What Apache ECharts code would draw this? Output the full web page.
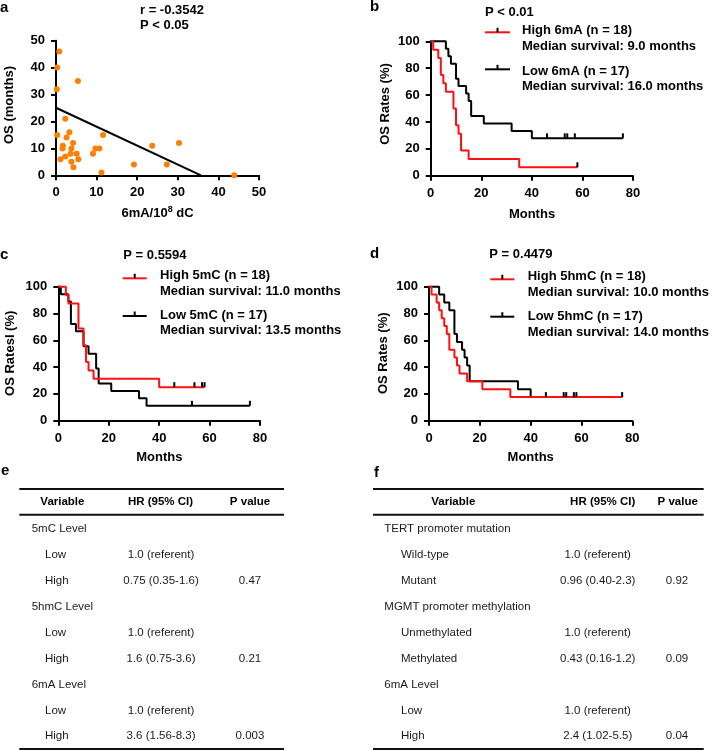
<!DOCTYPE html>
<html><head><meta charset="utf-8">
<script src="https://cdn.jsdelivr.net/npm/echarts@6/dist/echarts.min.js"></script>
<style>html,body{margin:0;padding:0;background:#fff}#c{width:714px;height:750px}</style>
</head><body><div id="c"></div>
<script>
// ---------- Panel a: scatter ----------
const scatterX = [0.8,0.3,0.2,5.4,2.3,0.3,3.3,2.6,4.2,1.7,1.6,3.8,3.6,5.1,1.1,2.3,3.8,5.5,4.3,9.1,9.7,10.7,11.6,11.2,19.2,23.7,27.3,30.3,43.9];
const scatterY = [46,40,32,35,21,15,16,14,12,11,10,10,8,8,6,7,5,6,3,8,10,10,15,1,4,11,4,12,0];
const fitIntercept = 25.1;
const fitSlope = -0.703;

// ---------- Panel b: 6mA ----------
const highB_t = [0,1,3,4,5,6,9,10,11,12,15,35,58];
const highB_s = [100,93.75,87.5,75,68.75,62.5,50,37.5,31.25,18.75,12.5,6.25,6.25];
const highB_c = [58];
const lowB_t = [0,6,7,8,10,11,14,15,16,21,32,40,76];
const lowB_s = [100,94.4,88.9,83.3,72.2,66.7,61.1,55.6,44.4,38.9,33.3,27.8,27.8];
const lowB_c = [46,53,54,57,76];

// ---------- Panel c: 5mC ----------
const highC_t = [0,3,4,8,10,11,12,14,40,58];
const highC_s = [100,93.75,87.5,68.75,56.25,43.75,37.5,31.25,25,25];
const highC_c = [46,54,57,58];
const lowC_t = [0,1,4,5,7,10,12,15,16,21,32,35,76];
const lowC_s = [100,94.4,88.9,72.2,66.7,55.6,50,38.9,27.8,22.2,16.7,11.1,11.1];
const lowC_c = [53,76];

// ---------- Panel d: 5hmC ----------
const highD_t = [0,1,3,4,5,6,7,8,10,11,12,15,21,32,76];
const highD_s = [100,94.1,88.2,82.4,76.5,70.6,64.7,52.9,47.1,41.2,35.3,29.4,23.5,17.6,17.6];
const highD_c = [];
const lowD_t = [0,4,6,8,10,11,13,14,15,16,35,40,76];
const lowD_s = [100,94.1,88.2,82.4,64.7,58.8,52.9,47.1,41.2,29.4,23.5,17.6,17.6];
const lowD_c = [46,53,54,57,58,76];

// ---------- Tick labels ----------
const scatterTicks = [0,10,20,30,40,50];
const monthTicks = [0,20,40,60,80];
const rateTicks = [0,20,40,60,80,100];

// ---------- Texts ----------
const legendB = ['High 6mA (n = 18)','Median survival: 9.0 months','Low 6mA (n = 17)','Median survival: 16.0 months'];
const legendC = ['High 5mC (n = 18)','Median survival: 11.0 months','Low 5mC (n = 17)','Median survival: 13.5 months'];
const legendD = ['High 5hmC (n = 18)','Median survival: 10.0 months','Low 5hmC (n = 17)','Median survival: 14.0 months'];
const pTexts = ['P < 0.01','P = 0.5594','P = 0.4479'];
const corrTexts = ['r = -0.3542','P < 0.05'];

// ---------- Tables ----------
const tableHeader = ['Variable','HR (95% CI)','P value'];
const eVar = ['5mC Level','Low','High','5hmC Level','Low','High','6mA Level','Low','High'];
const eSub = [0,1,1,0,1,1,0,1,1];
const eHR = ['','1.0 (referent)','0.75 (0.35-1.6)','','1.0 (referent)','1.6 (0.75-3.6)','','1.0 (referent)','3.6 (1.56-8.3)'];
const eP = ['','','0.47','','','0.21','','','0.003'];
const fVar = ['TERT promoter mutation','Wild-type','Mutant','MGMT promoter methylation','Unmethylated','Methylated','6mA Level','Low','High'];
const fSub = [0,1,1,0,1,1,0,1,1];
const fHR = ['','1.0 (referent)','0.96 (0.40-2.3)','','1.0 (referent)','0.43 (0.16-1.2)','','1.0 (referent)','2.4 (1.02-5.5)'];
const fP = ['','','0.92','','','0.09','','','0.04'];

// ================= build =================
const FONT = '"Liberation Sans", Arial, Helvetica, sans-serif';
const RED = '#ff1010';

function ax(gridIndex, ticks) {
  return {
    type: 'value', gridIndex,
    min: ticks[0], max: ticks[ticks.length-1], interval: ticks[1]-ticks[0],
    axisLine: {show: true, onZero: false, lineStyle: {color: '#000', width: 2}},
    axisTick: {show: true, length: 5, lineStyle: {color: '#000', width: 2}},
    axisLabel: {color: '#000', fontWeight: 'bold', fontSize: 13, fontFamily: FONT, margin: 11},
    splitLine: {show: false}
  };
}
function km(t, s) { return t.map((v,i)=>[v, s[i]]); }
function survAt(t, s, x) { let v = s[0]; for (let i=0;i<t.length;i++) if (t[i] <= x) v = s[i]; return v; }
function cens(t, s, c) { return c.map(x => [x, survAt(t, s, x)]); }

const series = [];
series.push({type:'scatter', xAxisIndex:0, yAxisIndex:0, data: scatterX.map((x,i)=>[x, scatterY[i]]),
  symbolSize: 6, itemStyle:{color:'#ff7f00', opacity:1}, z:3});
const xInt = -fitIntercept / fitSlope;
series.push({type:'line', xAxisIndex:0, yAxisIndex:0, data: [[0, fitIntercept],[xInt, 0]],
  symbol:'none', lineStyle:{color:'#000', width:2}, z:4});

const kmSets = [
  [1, lowB_t, lowB_s, lowB_c, highB_t, highB_s, highB_c],
  [2, lowC_t, lowC_s, lowC_c, highC_t, highC_s, highC_c],
  [3, lowD_t, lowD_s, lowD_c, highD_t, highD_s, highD_c]
];
kmSets.forEach(([gi, lt, ls, lc, ht, hs, hc]) => {
  series.push({type:'line', step:'end', xAxisIndex:gi, yAxisIndex:gi, data: km(lt, ls), symbol:'none',
    lineStyle:{color:'#000', width:2}, clip:false, z:3});
  series.push({type:'line', step:'end', xAxisIndex:gi, yAxisIndex:gi, data: km(ht, hs), symbol:'none',
    lineStyle:{color:RED, width:2}, clip:false, z:4});
  series.push({type:'scatter', xAxisIndex:gi, yAxisIndex:gi, data: cens(lt, ls, lc).concat(cens(ht, hs, hc)),
    symbol:'rect', symbolSize:[2, 5], symbolOffset:[0, -2.5], itemStyle:{color:'#000', opacity:1}, z:6});
});

const g = [];
function txt(x, y, text, size, weight, align, extra) {
  const el = {type:'text', x, y, z:10, style: Object.assign({text, fontSize:size, fontWeight:weight||'bold',
    fontFamily:FONT, fill:'#000', textAlign:align||'left', textVerticalAlign:'middle'}, extra||{})};
  return el;
}
function vtxt(x, y, text) {
  const e = txt(x, y, text, 13, 'bold', 'center'); e.rotation = Math.PI/2; return e;
}
function hline(x1, x2, y, color, w) {
  return {type:'line', z:10, shape:{x1, y1:y, x2, y2:y}, style:{stroke:color, lineWidth:w||2}};
}
function legendSample(x1, x2, y, color) {
  const c = (x1+x2)/2;
  return [hline(x1, x2, y, color, 2),
    {type:'line', z:11, shape:{x1:c, y1:y, x2:c, y2:y-4.5}, style:{stroke:'#000', lineWidth:2}}];
}

// panel labels
g.push(txt(0, 7.5, 'a', 15), txt(370, 7, 'b', 15), txt(0, 255, 'c', 15), txt(370, 253.5, 'd', 15),
       txt(1, 471, 'e', 15), txt(374, 472.5, 'f', 15));
// panel a texts
g.push(txt(140, 10, corrTexts[0], 13), txt(140, 25, corrTexts[1], 13));
g.push(vtxt(9.3, 105, 'OS (months)'));
g.push({type:'text', x:157.5, y:213, z:10, style:{text:'{n|6mA/10}{s|8}{n| dC}', textAlign:'center', textVerticalAlign:'middle',
  rich:{n:{fontSize:13, fontWeight:'bold', fontFamily:FONT, fill:'#000'}, s:{fontSize:9, fontWeight:'bold', fontFamily:FONT, fill:'#000', verticalAlign:'top', padding:[0,0,6,0]}}}});
// axis titles KM
g.push(vtxt(385.3, 104, 'OS Rates (%)'), vtxt(10, 353.3, 'OS RatesI (%)'), vtxt(383.7, 353.3, 'OS Rates (%)'));
g.push(txt(532, 214, 'Months', 13, 'bold', 'center'), txt(159.3, 457.3, 'Months', 13, 'bold', 'center'),
       txt(530.7, 457.3, 'Months', 13, 'bold', 'center'));
// P values
g.push(txt(485, 12, pTexts[0], 13), txt(123.3, 255, pTexts[1], 13), txt(489.3, 254.3, pTexts[2], 13));
// legends
function legendBlock(lx1, lx2, tx, yR, yT, yBl, yBlT, texts) {
  g.push(...legendSample(lx1, lx2, yR, RED), ...legendSample(lx1, lx2, yBl, '#000'));
  g.push(txt(tx, yT, texts[0], 13), txt(tx, yT+16, texts[1], 13), txt(tx, yBlT, texts[2], 13), txt(tx, yBlT+15.5, texts[3], 13));
}
legendBlock(485, 510, 522, 32.3, 30, 69.3, 71, legendB);
legendBlock(122.7, 146.7, 160, 278.3, 275, 316, 315.3, legendC);
legendBlock(490.3, 514.3, 527.7, 279.3, 276.7, 316.7, 316.7, legendD);

// tables
function table(x1, x2, hdrX, varX, subX, hrX, pX, vars, subs, hrs, ps) {
  g.push(hline(x1, x2, 489, '#111', 2), hline(x1, x2, 514.7, '#111', 2), hline(x1, x2, 749, '#111', 2));
  g.push(txt(hdrX[0], 502.3, tableHeader[0], 11.5, 'bold', 'center'),
         txt(hdrX[1], 502.3, tableHeader[1], 11.5, 'bold', 'center'),
         txt(hdrX[2], 502.3, tableHeader[2], 11.5, 'bold', 'center'));
  vars.forEach((v, i) => {
    const y = 528.7 + 25.95*i;
    g.push(txt(subs[i] ? subX : varX, y, v, 11.5, 'normal', 'left', {fill:'#1a1a1a'}));
    if (hrs[i]) g.push(txt(hrX, y, hrs[i], 11.5, 'normal', 'center', {fill:'#1a1a1a'}));
    if (ps[i]) g.push(txt(pX, y, ps[i], 11.5, 'normal', 'center', {fill:'#1a1a1a'}));
  });
}
table(19.3, 284, [62.4, 160.5, 250], 31.7, 45, 161, 250, eVar, eSub, eHR, eP);
table(373, 703.7, [453.3, 602.7, 677.7], 384.3, 401, 597.7, 677, fVar, fSub, fHR, fP);

const option = {
  animation: false,
  backgroundColor: '#fff',
  grid: [
    {left:56, top:40.7, width:203, height:134.6, outerBoundsMode:'none'},
    {left:430.7, top:41.3, width:202.3, height:134.4, outerBoundsMode:'none'},
    {left:58.3, top:286.7, width:201.7, height:134, outerBoundsMode:'none'},
    {left:429, top:286.7, width:203.3, height:134, outerBoundsMode:'none'}
  ],
  xAxis: [ax(0, scatterTicks), ax(1, monthTicks), ax(2, monthTicks), ax(3, monthTicks)],
  yAxis: [ax(0, scatterTicks), ax(1, rateTicks), ax(2, rateTicks), ax(3, rateTicks)],
  series,
  graphic: g
};
const chart = echarts.init(document.getElementById('c'), null, {renderer:'canvas'});
chart.setOption(option);
</script></body></html>
